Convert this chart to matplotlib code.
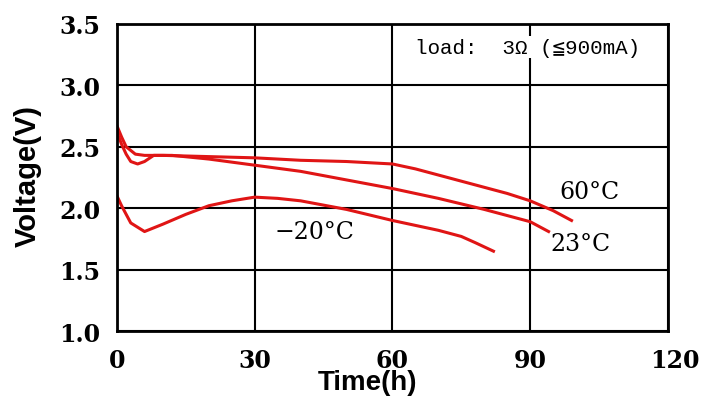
import numpy as np
import matplotlib.pyplot as plt
import matplotlib.transforms as mtransforms

# discharge curves
t_60 = [0, 1, 2, 4, 6, 10, 20, 30, 40, 50, 60, 65, 70, 75, 80, 85, 90, 95, 99]
v_60 = [2.67, 2.58, 2.50, 2.44, 2.43, 2.43, 2.42, 2.41, 2.39, 2.38, 2.36, 2.32, 2.27, 2.22, 2.17, 2.12, 2.06, 1.98, 1.90]

t_23 = [0, 1, 2, 3, 4.5, 6, 8, 12, 20, 30, 40, 50, 60, 70, 80, 90, 94]
v_23 = [2.62, 2.52, 2.44, 2.38, 2.36, 2.38, 2.43, 2.43, 2.40, 2.35, 2.30, 2.23, 2.16, 2.08, 1.99, 1.89, 1.81]

t_m20 = [0, 1, 3, 6, 10, 15, 20, 25, 30, 35, 40, 50, 60, 70, 75, 78, 82]
v_m20 = [2.10, 2.02, 1.88, 1.81, 1.87, 1.95, 2.02, 2.06, 2.09, 2.08, 2.06, 1.99, 1.90, 1.82, 1.77, 1.72, 1.65]

x_ticks = [0, 30, 60, 90, 120]
y_ticks = [1.0, 1.5, 2.0, 2.5, 3.0, 3.5]

red = '#e01515'
serif = 'DejaVu Serif'

fig = plt.figure(figsize=(7.19, 4.02), dpi=100)
ax = fig.add_axes([0.1627, 0.174, 0.7663, 0.764])

ax.plot(t_60, v_60, color=red, lw=2.2)
ax.plot(t_23, v_23, color=red, lw=2.2)
ax.plot(t_m20, v_m20, color=red, lw=2.2)

ax.set_xlim(0, 120)
ax.set_ylim(1.0, 3.5)
ax.set_xticks(x_ticks)
ax.set_yticks(y_ticks)
ax.set_xticklabels([str(v) for v in x_ticks], family=serif, weight='bold', fontsize=17)
ax.set_yticklabels([f'{v:.1f}' for v in y_ticks], family=serif, weight='bold', fontsize=17)
ax.tick_params(length=0)
ax.tick_params(axis='x', pad=12)
ax.tick_params(axis='y', pad=12)

# the "120" label sits a bit to the right in the original
lbl = ax.get_xticklabels()[-1]
lbl.set_transform(lbl.get_transform() + mtransforms.ScaledTranslation(0.07, 0, fig.dpi_scale_trans))

ax.grid(True, color='black', lw=1.5)
for s in ax.spines.values():
    s.set_linewidth(2)
    s.set_color('black')

ax.set_xlabel('Time(h)', family='Liberation Sans', weight='bold', fontsize=20)
ax.set_ylabel('Voltage(V)', family='Liberation Sans', weight='bold', fontsize=21)
ax.xaxis.set_label_coords(0.455, -0.125)
ax.yaxis.set_label_coords(-0.136, 0.508)

ax.text(103, 2.14, '60°C', family=serif, fontsize=17, ha='center', va='center')
ax.text(101, 1.71, '23°C', family=serif, fontsize=17, ha='center', va='center')
ax.text(43, 1.81, '−20°C', family=serif, fontsize=17, ha='center', va='center')

ax.text(89.5, 3.31, 'load:  3Ω (≦900mA)', family=['Liberation Mono', 'DejaVu Sans Mono', 'DejaVu Sans'],
        fontsize=15, ha='center', va='center',
        bbox=dict(facecolor='white', edgecolor='none', pad=1))

fig.savefig('out.png', dpi=100)
